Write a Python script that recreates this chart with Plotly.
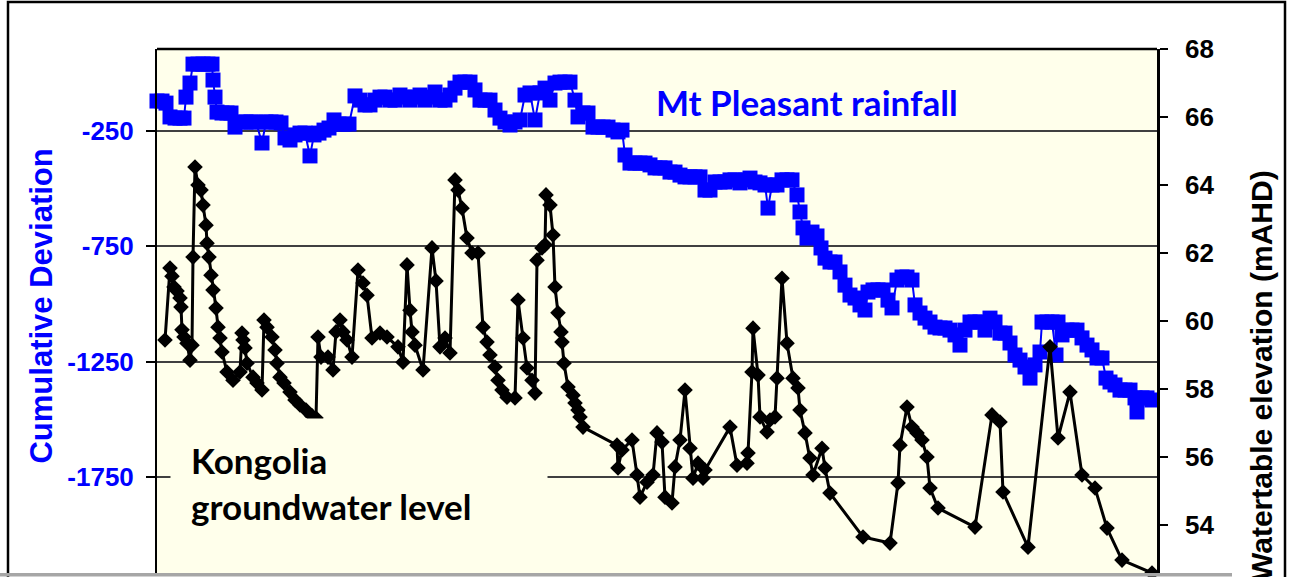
import plotly.graph_objects as go

# ---- data ----
rain_t = [1970.00, 1970.20, 1970.36, 1970.52, 1970.72, 1970.92, 1971.08, 1971.16, 1971.32, 1971.44,
          1971.64, 1971.84, 1972.04, 1972.20, 1972.24, 1972.32, 1972.40, 1972.60, 1972.80, 1972.96,
          1973.12, 1973.36, 1973.56, 1973.76, 1973.96, 1974.20, 1974.36, 1974.56, 1974.76, 1974.96,
          1975.12, 1975.32, 1975.52, 1975.72, 1975.92, 1976.12, 1976.28, 1976.48, 1976.68, 1976.88,
          1977.08, 1977.28, 1977.48, 1977.68, 1977.92, 1978.12, 1978.32, 1978.52, 1978.72, 1978.92,
          1979.12, 1979.32, 1979.52, 1979.72, 1979.92, 1980.12, 1980.32, 1980.52, 1980.72, 1980.92,
          1981.12, 1981.32, 1981.52, 1981.72, 1981.92, 1982.12, 1982.32, 1982.52, 1982.72, 1982.92,
          1983.12, 1983.32, 1983.52, 1983.72, 1983.92, 1984.12, 1984.32, 1984.52, 1984.72, 1984.92,
          1985.12, 1985.32, 1985.52, 1985.72, 1985.92, 1986.12, 1986.32, 1986.52, 1986.72, 1986.84,
          1987.04, 1987.24, 1987.44, 1987.64, 1987.84, 1988.04, 1988.24, 1988.44, 1988.60, 1988.72,
          1988.92, 1989.12, 1989.32, 1989.52, 1989.72, 1989.92, 1990.12, 1990.32, 1990.52, 1990.72,
          1990.92, 1991.12, 1991.32, 1991.52, 1991.72, 1991.92, 1992.12, 1992.32, 1992.52, 1992.72,
          1992.92, 1993.12, 1993.32, 1993.52, 1993.72, 1993.92, 1994.12, 1994.32, 1994.44, 1994.60,
          1994.80, 1995.00, 1995.20, 1995.40, 1995.60, 1995.72, 1995.84, 1996.00, 1996.20, 1996.40,
          1996.56, 1996.72, 1996.92, 1997.12, 1997.32, 1997.52, 1997.72, 1997.92, 1998.12, 1998.32,
          1998.44, 1998.64, 1998.84, 1999.04, 1999.24, 1999.40, 1999.60, 1999.80, 2000.00, 2000.20,
          2000.32, 2000.52, 2000.72, 2000.92, 2001.12, 2001.32, 2001.52, 2001.72, 2001.92, 2002.12,
          2002.32, 2002.52, 2002.72, 2002.92, 2003.12, 2003.32, 2003.52, 2003.72, 2003.92, 2004.12,
          2004.32, 2004.52, 2004.72, 2004.92, 2005.12, 2005.32, 2005.40, 2005.60, 2005.80, 2005.96,
          2006.04, 2006.20, 2006.40, 2006.60, 2006.80, 2007.00, 2007.20, 2007.40, 2007.60, 2007.80,
          2007.96, 2008.12, 2008.32, 2008.52, 2008.72, 2008.92, 2009.12, 2009.20, 2009.40, 2009.60,
          2009.80]
rain_cumdev = [-120, -120, -129, -189, -194, -194, -194, -103, -42, 40,
               40, 40, 40, 40, -29, -103, -168, -172, -172, -172,
               -233, -211, -211, -211, -211, -302, -211, -211, -211, -215,
               -280, -289, -267, -259, -259, -358, -267, -259, -246, -237,
               -202, -220, -220, -220, -98, -116, -137, -137, -116, -103,
               -103, -116, -116, -94, -103, -116, -103, -94, -116, -103,
               -81, -116, -116, -94, -64, -38, -38, -38, -72, -116,
               -116, -116, -159, -194, -211, -224, -211, -202, -94, -85,
               -202, -85, -64, -116, -42, -38, -38, -38, -116, -189,
               -172, -172, -233, -233, -233, -233, -246, -254, -246, -354,
               -389, -389, -389, -389, -397, -410, -410, -410, -428, -428,
               -441, -449, -449, -449, -449, -506, -506, -471, -471, -471,
               -462, -462, -475, -462, -454, -471, -475, -484, -584, -484,
               -484, -462, -462, -462, -527, -601, -670, -714, -688, -705,
               -757, -801, -818, -818, -861, -918, -961, -974, -1004, -1026,
               -948, -939, -939, -939, -983, -1017, -896, -883, -883, -896,
               -1004, -1039, -1061, -1078, -1100, -1104, -1104, -1113, -1134, -1178,
               -1113, -1078, -1078, -1078, -1113, -1061, -1078, -1126, -1126, -1169,
               -1221, -1243, -1273, -1321, -1264, -1208, -1078, -1078, -1078, -1221,
               -1078, -1134, -1113, -1113, -1113, -1147, -1178, -1199, -1234, -1234,
               -1321, -1338, -1351, -1373, -1373, -1373, -1407, -1468, -1407, -1407,
               -1416]

gw_t = [1970.32, 1970.52, 1970.60, 1970.68, 1970.80, 1970.92, 1970.96, 1971.00, 1971.08, 1971.20,
        1971.32, 1971.40, 1971.44, 1971.52, 1971.64, 1971.76, 1971.84, 1971.96, 1972.00, 1972.08,
        1972.16, 1972.24, 1972.36, 1972.44, 1972.52, 1972.60, 1972.80, 1973.04, 1973.32, 1973.40,
        1973.44, 1973.52, 1973.60, 1973.84, 1974.00, 1974.20, 1974.28, 1974.40, 1974.60, 1974.72,
        1974.80, 1974.92, 1975.08, 1975.32, 1975.52, 1975.72, 1975.96, 1976.20, 1976.36, 1976.44,
        1976.56, 1976.84, 1977.04, 1977.16, 1977.32, 1977.44, 1977.60, 1977.80, 1978.04, 1978.24,
        1978.40, 1978.60, 1978.92, 1979.20, 1979.64, 1979.84, 1980.00, 1980.12, 1980.20, 1980.32,
        1980.64, 1981.00, 1981.16, 1981.32, 1981.52, 1981.72, 1981.92, 1982.04, 1982.20, 1982.40,
        1982.60, 1982.84, 1983.04, 1983.20, 1983.32, 1983.52, 1983.64, 1983.80, 1984.00, 1984.32,
        1984.44, 1984.64, 1984.80, 1985.00, 1985.12, 1985.20, 1985.40, 1985.52, 1985.56, 1985.72,
        1985.84, 1985.92, 1986.04, 1986.16, 1986.20, 1986.28, 1986.44, 1986.64, 1986.72, 1986.84,
        1986.92, 1987.04, 1988.40, 1988.44, 1988.60, 1989.00, 1989.20, 1989.32, 1989.60, 1989.84,
        1990.00, 1990.20, 1990.32, 1990.60, 1990.72, 1990.92, 1991.12, 1991.32, 1991.44, 1991.64,
        1991.84, 1991.92, 1992.92, 1993.20, 1993.60, 1993.64, 1993.80, 1993.84, 1994.04, 1994.12,
        1994.40, 1994.52, 1994.72, 1994.80, 1995.00, 1995.20, 1995.44, 1995.64, 1995.72, 1995.92,
        1996.12, 1996.24, 1996.60, 1996.72, 1996.92, 1998.24, 1999.32, 1999.64, 1999.72, 2000.00,
        2000.20, 2000.40, 2000.60, 2000.80, 2000.92, 2001.24, 2002.72, 2003.40, 2003.72, 2003.84,
        2004.84, 2005.72, 2006.04, 2006.52, 2007.00, 2007.52, 2008.00, 2008.60, 2009.80]
gw_level = [59.44, 61.56, 61.32, 61.00, 60.88, 60.68, 60.41, 59.74, 59.53, 59.35,
            58.85, 59.29, 61.88, 64.53, 64.00, 63.85, 63.41, 62.82, 62.29, 61.88,
            61.35, 60.91, 60.38, 59.82, 59.50, 59.09, 58.50, 58.26, 58.50, 59.65,
            59.44, 59.21, 58.76, 58.35, 58.18, 57.97, 60.03, 59.82, 59.53, 59.15,
            58.76, 58.35, 58.18, 57.91, 57.68, 57.53, 57.38, 57.21, 57.15, 59.53,
            58.94, 58.94, 58.56, 59.68, 60.03, 59.68, 59.44, 58.94, 61.50, 61.12,
            60.76, 59.50, 59.65, 59.53, 59.24, 58.79, 61.65, 60.32, 59.68, 59.29,
            58.56, 62.15, 61.18, 59.24, 59.50, 59.06, 64.15, 63.85, 63.32, 62.44,
            62.00, 62.00, 59.82, 59.38, 59.00, 58.65, 58.26, 57.97, 57.76, 57.74,
            60.62, 59.50, 58.62, 58.26, 57.88, 61.79, 62.15, 62.24, 63.71, 63.41,
            62.53, 61.00, 60.24, 59.68, 59.38, 58.76, 58.06, 57.82, 57.59, 57.38,
            57.18, 56.88, 56.35, 55.68, 56.21, 56.50, 55.47, 54.82, 55.26, 55.47,
            56.71, 56.44, 54.82, 54.65, 55.71, 56.50, 57.97, 56.26, 55.38, 55.82,
            55.38, 55.62, 56.88, 55.76, 55.82, 56.12, 58.50, 59.79, 58.41, 57.18,
            56.74, 57.09, 57.18, 58.32, 61.26, 59.35, 58.32, 58.03, 57.38, 56.71,
            55.97, 55.47, 56.26, 55.68, 54.94, 53.65, 53.47, 55.24, 56.35, 57.47,
            56.88, 56.71, 56.50, 56.00, 55.09, 54.50, 53.94, 57.24, 57.03, 54.97,
            53.35, 59.24, 56.56, 57.91, 55.47, 55.09, 53.91, 52.97, 52.59]

left_ticks = [-1750, -1250, -750, -250]
left_tick_text = ["-1750", "-1250", "-750", "-250"]
right_ticks = [54, 56, 58, 60, 62, 64, 66, 68]
left_range = [-2166, 105.5]
right_range = [52.59, 68]
x_range = [1970, 2010]

BLUE = "#0000FF"
PLOT_BG = "#FFFFEB"
AX_FONT = "Liberation Sans, Arial, sans-serif"
LABEL_FONT = "Lato, Calibri, sans-serif"

fig = go.Figure()
fig.add_trace(go.Scatter(
    x=rain_t, y=rain_cumdev, mode="lines+markers", yaxis="y",
    line=dict(color=BLUE, width=2),
    marker=dict(symbol="square", size=15, color=BLUE),
    cliponaxis=False, showlegend=False, name="Mt Pleasant rainfall"))
fig.add_trace(go.Scatter(
    x=gw_t, y=gw_level, mode="lines+markers", yaxis="y2",
    line=dict(color="black", width=3),
    marker=dict(symbol="diamond", size=12, color="black"),
    cliponaxis=False, showlegend=False, name="Kongolia groundwater level"))

fig.update_layout(
    width=1297, height=577,
    margin=dict(l=157, r=140, t=49, b=4),
    paper_bgcolor="white", plot_bgcolor=PLOT_BG,
    xaxis=dict(range=x_range, visible=False, showgrid=False, zeroline=False),
    yaxis=dict(range=left_range, tickvals=left_ticks, ticktext=left_tick_text,
               ticks="outside", ticklen=9, tickwidth=1.5, tickcolor="black",
               showline=True, linecolor="black", linewidth=2,
               showgrid=True, gridcolor="#404040", gridwidth=1.5, zeroline=False,
               tickfont=dict(family=AX_FONT, size=26, color=BLUE, weight="bold"),
               ticklabelstandoff=7),
    yaxis2=dict(range=right_range, tickvals=right_ticks, overlaying="y", side="right",
                ticks="outside", ticklen=8, tickwidth=1.5, tickcolor="black",
                showline=True, linecolor="black", linewidth=2.5,
                showgrid=False, zeroline=False,
                tickfont=dict(family=AX_FONT, size=26, color="black", weight="bold"),
                ticklabelstandoff=12),
    yaxis3=dict(range=right_range, tickvals=right_ticks, overlaying="y", side="right",
                ticks="inside", ticklen=8, tickwidth=1.5, tickcolor="black",
                showticklabels=False, showline=False, showgrid=False, zeroline=False),
)

# plot-area top border
fig.add_shape(type="line", xref="paper", yref="paper", x0=0, x1=1, y0=1, y1=1,
              line=dict(color="black", width=2.5), layer="above")
# outer chart frame
fig.add_shape(type="rect", xref="paper", yref="paper", x0=-0.149, x1=1.128, y0=-0.2, y1=1.0897,
              line=dict(color="black", width=2.5), fillcolor="rgba(0,0,0,0)", layer="above")
# grey edge at the bottom of the screenshot
fig.add_shape(type="rect", xref="paper", yref="paper", x0=-0.2, x1=1.075, y0=-0.0002, y1=-0.0065,
              line=dict(width=0), fillcolor="#A6A6A6", layer="above")

fig.add_annotation(text="Mt Pleasant rainfall", xref="paper", yref="paper",
                   x=0.497, y=0.899, xanchor="left", yanchor="middle", showarrow=False,
                   font=dict(family=LABEL_FONT, size=35, color=BLUE, weight="bold"))
fig.add_annotation(text="Kongolia<br>groundwater level", xref="paper", yref="paper",
                   x=0.013, y=0.172, xanchor="left", yanchor="middle", showarrow=False,
                   align="left", width=336, borderpad=20, bgcolor=PLOT_BG,
                   font=dict(family=LABEL_FONT, size=35, color="black", weight="bold"))
fig.add_annotation(text="Cumulative Deviation", xref="paper", yref="paper",
                   x=-0.1155, y=0.5095, xanchor="center", yanchor="middle", textangle=-90,
                   showarrow=False,
                   font=dict(family=AX_FONT, size=31, color=BLUE, weight="bold"))
fig.add_annotation(text="Watertable elevation (mAHD)", xref="paper", yref="paper",
                   x=1.105, y=0.376, xanchor="center", yanchor="middle", textangle=-90,
                   showarrow=False,
                   font=dict(family=AX_FONT, size=30, color="black", weight="bold"))

# remove the browser's default 8px page margin so the figure sits at the top-left corner
fig.write_html("out.html", config={"displayModeBar": False},
               post_script="document.body.style.margin='0';")
